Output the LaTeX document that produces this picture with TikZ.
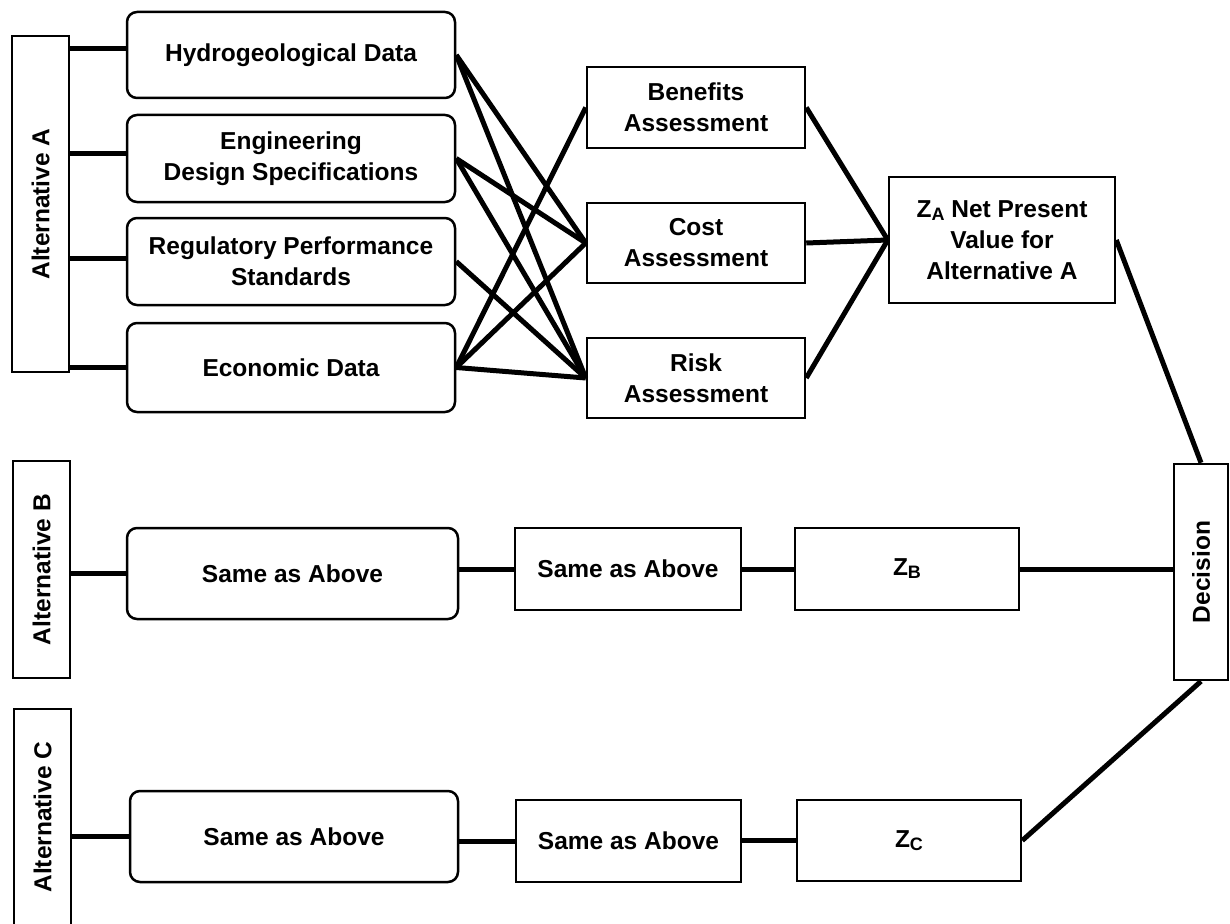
\documentclass[tikz,border=0pt]{standalone}
\usepackage{fontspec}
\usepackage{graphicx}
\setmainfont{Liberation Sans}
\newcommand\zsub[1]{Z\raisebox{-3pt}{\fontsize{18}{18}\selectfont #1}}
\tikzset{
  lbl/.style={font=\fontsize{24.5}{31}\selectfont\bfseries, align=center, inner sep=0pt},
  sqbox/.style={lbl, draw, line width=2.5pt, fill=white},
  rbox/.style={sqbox, rounded corners=10pt},
  conn/.style={line width=5pt},
}
\begin{document}
\begin{tikzpicture}[x=1pt,y=-1pt]
\clip (0,0) rectangle (1230,923);
\fill[white] (0,0) rectangle (1230,923);

% left alternative boxes
\node[sqbox, minimum width=57pt, minimum height=336pt] (altA) at (40.5,204) {\rotatebox{90}{Alternative A}};
\node[sqbox, minimum width=57pt, minimum height=217pt] (altB) at (41.5,569.5) {\rotatebox{90}{Alternative B}};
\node[sqbox, minimum width=57pt, minimum height=216pt] (altC) at (42.5,817) {\rotatebox{90}{Alternative C}};

% data boxes
\node[rbox, minimum width=328pt, minimum height=86pt] (hydro) at (291,55) {Hydrogeological Data};
\node[rbox, minimum width=328pt, minimum height=87pt] (eng) at (291,158.5) {Engineering\\Design Specifications};
\node[rbox, minimum width=328pt, minimum height=87pt] (reg) at (291,261.5) {Regulatory Performance\\Standards};
\node[rbox, minimum width=328pt, minimum height=89pt] (econ) at (291,367.5) {Economic Data};

% assessment boxes
\node[sqbox, minimum width=218pt, minimum height=81pt] (ben) at (696,107.5) {Benefits\\Assessment};
\node[sqbox, minimum width=218pt, minimum height=80pt] (cost) at (696,243) {Cost\\Assessment};
\node[sqbox, minimum width=218pt, minimum height=80pt] (risk) at (696,378) {Risk\\Assessment};

% NPV and decision
\node[sqbox, minimum width=226pt, minimum height=126pt] (za) at (1002,240) {\zsub{A} Net Present\\Value for\\Alternative A};
\node[sqbox, minimum width=54pt, minimum height=216pt] (dec) at (1201,572) {\rotatebox{90}{Decision}};

% row B
\node[rbox, minimum width=331pt, minimum height=91pt] (sb1) at (292.5,573.5) {Same as Above};
\node[sqbox, minimum width=226pt, minimum height=82pt] (sb2) at (628,569) {Same as Above};
\node[sqbox, minimum width=224pt, minimum height=82pt] (zb) at (907,569) {\zsub{B}};

% row C
\node[rbox, minimum width=328pt, minimum height=91pt] (sc1) at (294,836.5) {Same as Above};
\node[sqbox, minimum width=225pt, minimum height=82pt] (sc2) at (628.5,841) {Same as Above};
\node[sqbox, minimum width=224pt, minimum height=81pt] (zc) at (909,840.5) {\zsub{C}};

\begin{scope}[conn]
% Alternative A to data
\draw (altA.east |- hydro.west) ++(0,-6) -- ([yshift=6pt]hydro.west);
\draw (altA.east |- eng.west) ++(0,-5) -- ([yshift=5pt]eng.west);
\draw (altA.east |- reg.west) ++(0,-3) -- ([yshift=3pt]reg.west);
\draw (altA.east |- econ.west) -- (econ.west);
% data to assessments
\draw (hydro.east) -- (cost.west);
\draw (hydro.east) -- (risk.west);
\draw (eng.east) -- (cost.west);
\draw (eng.east) -- (risk.west);
\draw (reg.east) -- (risk.west);
\draw (econ.east) -- (ben.west);
\draw (econ.east) -- (cost.west);
\draw (econ.east) -- (risk.west);
% assessments to NPV
\draw (ben.east) -- (za.west);
\draw (cost.east) -- (za.west);
\draw (risk.east) -- (za.west);
% to decision
\draw (za.east) -- (dec.north);
\draw (zc.east) -- (dec.south);
% row B
\draw (altB.east |- sb1.west) -- (sb1.west);
\draw (sb1.east |- sb2.west) -- (sb2.west);
\draw (sb2.east) -- (zb.west);
\draw (zb.east) -- (zb.east -| dec.west);
% row C
\draw (altC.east |- sc1.west) -- (sc1.west);
\draw (sc1.east |- sc2.west) -- (sc2.west);
\draw (sc2.east |- zc.west) -- (zc.west);
\end{scope}
\end{tikzpicture}
\end{document}
